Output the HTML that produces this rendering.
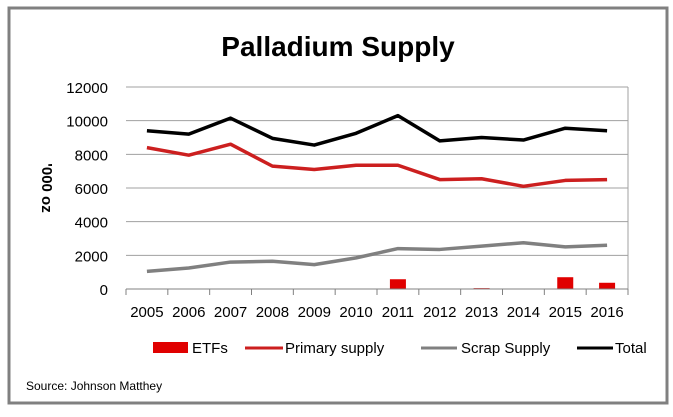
<!DOCTYPE html>
<html><head><meta charset="utf-8"><style>
body{margin:0;background:#fff;width:673px;height:412px;overflow:hidden;font-family:"Liberation Sans",sans-serif}
</style></head><body>
<svg width="673" height="412" font-family="Liberation Sans, sans-serif">
<rect x="9" y="8" width="658" height="395" fill="#fff" stroke="#808080" stroke-width="3"/>
<text x="338" y="56" text-anchor="middle" font-size="28" font-weight="bold" fill="#000">Palladium Supply</text>
<text transform="translate(42,188) rotate(90)" text-anchor="middle" font-size="15" font-weight="bold">'000 oz</text>
<g id="grid"></g><g id="bars"></g><g id="lines"></g><g id="axes"></g>
<g font-size="15">
<rect x="153" y="342" width="35" height="11" fill="#e00000"/>
<text x="192" y="353">ETFs</text>
<line x1="245" y1="348" x2="283" y2="348" stroke="#cc1f1f" stroke-width="3"/>
<text x="285" y="353">Primary supply</text>
<line x1="421" y1="348" x2="457" y2="348" stroke="#808080" stroke-width="3"/>
<text x="461" y="353">Scrap Supply</text>
<line x1="577" y1="348" x2="613" y2="348" stroke="#000" stroke-width="3"/>
<text x="615" y="353">Total</text>
</g>
<text x="26" y="390" font-size="12">Source: Johnson Matthey</text>
</svg>
<script>
const categories=["2005","2006","2007","2008","2009","2010","2011","2012","2013","2014","2015","2016"];
const totalValues=[9400,9200,10150,8950,8550,9250,10300,8800,9000,8850,9550,9400];
const primaryValues=[8400,7950,8600,7300,7100,7350,7350,6500,6550,6100,6450,6500];
const scrapValues=[1050,1250,1600,1650,1450,1850,2400,2350,2550,2750,2500,2600];
const etfValues=[0,0,0,0,0,0,580,0,50,0,700,370];
const yTicks=[0,2000,4000,6000,8000,10000,12000];
const NS="http://www.w3.org/2000/svg";
const L=126,R=628,T=87,B=289,YMAX=12000;
const bw=(R-L)/categories.length;
const x=i=>L+bw*(i+0.5);
const y=v=>B-(v/YMAX)*(B-T);
function mk(tag,attrs,parent){const e=document.createElementNS(NS,tag);for(const k in attrs)e.setAttribute(k,attrs[k]);document.getElementById(parent).appendChild(e);return e;}
yTicks.forEach(t=>{
 if(t>0){const g=mk('line',{x1:L,x2:R,y1:y(t),y2:y(t),stroke:'#a0a0a0','stroke-width':1},'grid');
 
 }
 const tx=mk('text',{x:L-18,y:y(t)+6,'text-anchor':'end','font-size':15},'axes');tx.textContent=t;
 
 
});
const gr=mk('line',{x1:R,x2:R,y1:T,y2:B,stroke:'#a0a0a0'},'grid');


const ax=mk('line',{x1:L,x2:R,y1:B,y2:B,stroke:'#808080'},'axes');


for(let i=0;i<=categories.length;i++){const tk=mk('line',{x1:L+bw*i,x2:L+bw*i,y1:B,y2:B+6,stroke:'#808080'},'axes');
 
 }
categories.forEach((c,i)=>{const t=mk('text',{x:x(i),y:317,'text-anchor':'middle','font-size':15},'axes');t.textContent=c;
 
 });
etfValues.forEach((v,i)=>{if(v<=0)return;const r=mk('rect',{x:x(i)-8,y:y(v),width:16,height:B-y(v),fill:'#e00000'},'bars');
 
 });
function line(vals,color,name){const p=mk('polyline',{points:vals.map((v,i)=>x(i)+','+y(v)).join(' '),fill:'none',stroke:color,'stroke-width':3.5,'stroke-linejoin':'round'},'lines');
 
 }
line(scrapValues,'#808080','scrap-supply-line');
line(primaryValues,'#cc1f1f','primary-supply-line');
line(totalValues,'#000','total-line');
</script>
</body></html>
